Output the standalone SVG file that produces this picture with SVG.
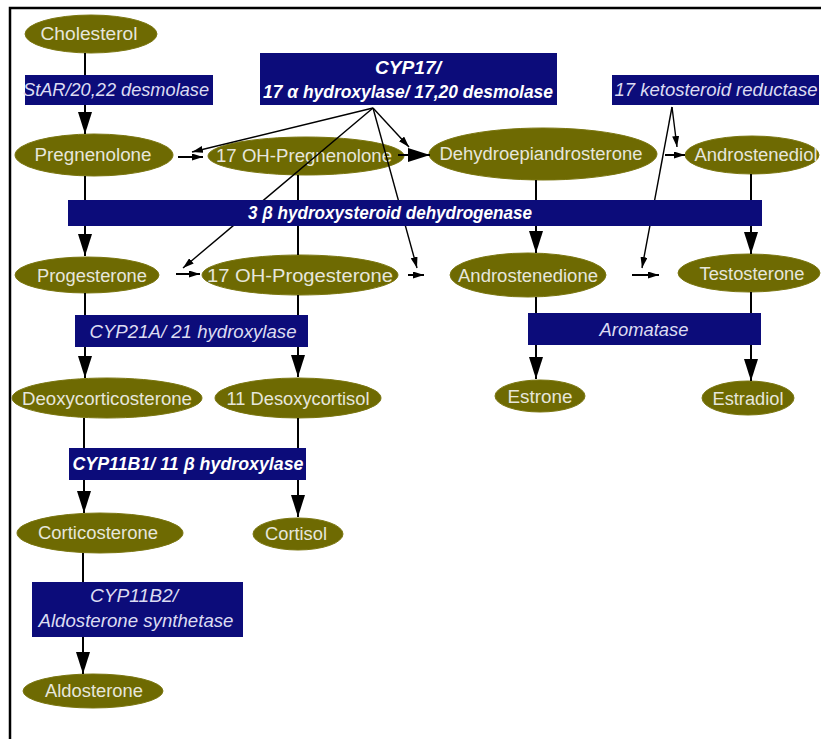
<svg xmlns="http://www.w3.org/2000/svg" width="821" height="739" viewBox="0 0 821 739">
<style>
.n ellipse{fill:#6e6a02;stroke:#7a7610;stroke-width:1}
.n text{font-family:"Liberation Sans",Arial,sans-serif;font-size:18px;fill:#e6e6dc;text-anchor:middle}
.b rect{fill:#0c0c7a}
.b text{font-family:"Liberation Sans",Arial,sans-serif;font-size:18px;font-style:italic;fill:#dcdcf2;text-anchor:middle}
.b text.bd{font-weight:bold;fill:#ffffff}
.c line{stroke:#000;stroke-width:2}
.c line.d{stroke-width:1.4}
</style>
<defs>
<marker id="big" markerUnits="userSpaceOnUse" markerWidth="22" markerHeight="14" refX="22" refY="7" orient="auto"><path d="M0,0 L22,7 L0,14 z" fill="#000"/></marker>
<marker id="sm" markerUnits="userSpaceOnUse" markerWidth="11" markerHeight="7" refX="11" refY="3.5" orient="auto"><path d="M0,0 L11,3.5 L0,7 z" fill="#000"/></marker>
</defs>
<rect x="0" y="0" width="821" height="739" fill="#fff"/>
<g id="frame"><path d="M10,739 L10,8 L821,8" fill="none" stroke="#000" stroke-width="2.5"/></g>

<g id="cholesterol" class="n"><ellipse cx="91" cy="34" rx="66" ry="19"/><text x="89" y="40" textLength="97" lengthAdjust="spacingAndGlyphs">Cholesterol</text></g>
<g id="pregnenolone" class="n"><ellipse cx="94" cy="155" rx="79" ry="21"/><text x="93" y="161" textLength="117" lengthAdjust="spacingAndGlyphs">Pregnenolone</text></g>
<g id="oh17preg" class="n"><ellipse cx="306" cy="156" rx="98" ry="19"/><text x="304" y="162" textLength="176" lengthAdjust="spacingAndGlyphs">17 OH-Pregnenolone</text></g>
<g id="dhea" class="n"><ellipse cx="543" cy="154" rx="114" ry="26"/><text x="541" y="160" textLength="203" lengthAdjust="spacingAndGlyphs">Dehydroepiandrosterone</text></g>
<g id="androstenediol" class="n"><ellipse cx="752" cy="155" rx="67" ry="19"/><text x="756" y="161" textLength="123" lengthAdjust="spacingAndGlyphs">Androstenediol</text></g>
<g id="progesterone" class="n"><ellipse cx="87" cy="275" rx="72" ry="18"/><text x="92" y="282" textLength="110" lengthAdjust="spacingAndGlyphs">Progesterone</text></g>
<g id="oh17prog" class="n"><ellipse cx="300" cy="275" rx="98" ry="20"/><text x="300" y="282" textLength="186" lengthAdjust="spacingAndGlyphs">17 OH-Progesterone</text></g>
<g id="androstenedione" class="n"><ellipse cx="528" cy="275" rx="78" ry="22"/><text x="528" y="282" textLength="140" lengthAdjust="spacingAndGlyphs">Androstenedione</text></g>
<g id="testosterone" class="n"><ellipse cx="749" cy="273" rx="71" ry="19"/><text x="752" y="280" textLength="105" lengthAdjust="spacingAndGlyphs">Testosterone</text></g>
<g id="deoxycorticosterone" class="n"><ellipse cx="107" cy="398" rx="95" ry="20"/><text x="107" y="405" textLength="170" lengthAdjust="spacingAndGlyphs">Deoxycorticosterone</text></g>
<g id="desoxycortisol" class="n"><ellipse cx="298" cy="398" rx="83" ry="20"/><text x="298" y="405" textLength="143" lengthAdjust="spacingAndGlyphs">11 Desoxycortisol</text></g>
<g id="estrone" class="n"><ellipse cx="540" cy="396" rx="45" ry="16"/><text x="540" y="403" textLength="65" lengthAdjust="spacingAndGlyphs">Estrone</text></g>
<g id="estradiol" class="n"><ellipse cx="748" cy="398" rx="46" ry="17"/><text x="748" y="405" textLength="71" lengthAdjust="spacingAndGlyphs">Estradiol</text></g>
<g id="corticosterone" class="n"><ellipse cx="100" cy="533" rx="83" ry="20"/><text x="98" y="539" textLength="120" lengthAdjust="spacingAndGlyphs">Corticosterone</text></g>
<g id="cortisol" class="n"><ellipse cx="298" cy="534" rx="45" ry="16"/><text x="296" y="540" textLength="62" lengthAdjust="spacingAndGlyphs">Cortisol</text></g>
<g id="aldosterone" class="n"><ellipse cx="93" cy="691" rx="70" ry="17"/><text x="94" y="697" textLength="98" lengthAdjust="spacingAndGlyphs">Aldosterone</text></g>

<g id="connectors" class="c">
<line x1="85" y1="53" x2="85" y2="134" marker-end="url(#big)"/>
<line x1="85" y1="176" x2="85" y2="256" marker-end="url(#big)"/>
<line x1="85" y1="293" x2="85" y2="378" marker-end="url(#big)"/>
<line x1="84" y1="418" x2="84" y2="513" marker-end="url(#big)"/>
<line x1="83" y1="553" x2="83" y2="674" marker-end="url(#big)"/>
<line x1="298" y1="175" x2="298" y2="255"/>
<line x1="298" y1="295" x2="298" y2="377" marker-end="url(#big)"/>
<line x1="298" y1="418" x2="298" y2="517" marker-end="url(#big)"/>
<line x1="536" y1="180" x2="536" y2="253" marker-end="url(#big)"/>
<line x1="536" y1="297" x2="536" y2="379" marker-end="url(#big)"/>
<line x1="751" y1="174" x2="751" y2="254" marker-end="url(#big)"/>
<line x1="751" y1="292" x2="751" y2="381" marker-end="url(#big)"/>
<line x1="178" y1="157" x2="203" y2="157" marker-end="url(#sm)"/>
<line x1="398" y1="155" x2="430" y2="155" marker-end="url(#big)"/>
<line x1="665" y1="155" x2="685" y2="155" marker-end="url(#sm)"/>
<line x1="176" y1="274" x2="200" y2="274" marker-end="url(#sm)"/>
<line x1="408" y1="275" x2="424" y2="275" marker-end="url(#sm)"/>
<line x1="632" y1="275" x2="659" y2="275" marker-end="url(#sm)"/>
<line class="d" x1="373" y1="108" x2="192" y2="152" marker-end="url(#sm)"/>
<line class="d" x1="373" y1="108" x2="183" y2="268" marker-end="url(#sm)"/>
<line class="d" x1="373" y1="108" x2="409" y2="147" marker-end="url(#sm)"/>
<line class="d" x1="373" y1="108" x2="417" y2="268" marker-end="url(#sm)"/>
<line class="d" x1="672" y1="107" x2="677" y2="147" marker-end="url(#sm)"/>
<line class="d" x1="672" y1="107" x2="642" y2="268" marker-end="url(#sm)"/>
</g>

<g id="star" class="b"><rect x="25" y="75" width="188" height="30"/><text x="116" y="96" textLength="186" lengthAdjust="spacingAndGlyphs">StAR/20,22 desmolase</text></g>
<g id="cyp17" class="b"><rect x="260" y="53" width="297" height="52"/><text class="bd" x="408" y="74" textLength="66" lengthAdjust="spacingAndGlyphs">CYP17/</text><text class="bd" x="408" y="98" textLength="290" lengthAdjust="spacingAndGlyphs">17 α hydroxylase/ 17,20 desmolase</text></g>
<g id="keto" class="b"><rect x="612" y="75" width="207" height="30"/><text x="716" y="96" textLength="203" lengthAdjust="spacingAndGlyphs">17 ketosteroid reductase</text></g>
<g id="hsd3b" class="b"><rect x="68" y="200" width="694" height="26"/><text class="bd" x="390" y="219" textLength="284" lengthAdjust="spacingAndGlyphs">3 β hydroxysteroid dehydrogenase</text></g>
<g id="cyp21a" class="b"><rect x="75" y="315" width="233" height="32"/><text x="193" y="338" textLength="207" lengthAdjust="spacingAndGlyphs">CYP21A/ 21 hydroxylase</text></g>
<g id="aromatase" class="b"><rect x="528" y="313" width="233" height="32"/><text x="644" y="336" textLength="89" lengthAdjust="spacingAndGlyphs">Aromatase</text></g>
<g id="cyp11b1" class="b"><rect x="69" y="448" width="237" height="32"/><text class="bd" x="188" y="470" textLength="231" lengthAdjust="spacingAndGlyphs">CYP11B1/ 11 β hydroxylase</text></g>
<g id="cyp11b2" class="b"><rect x="32" y="582" width="211" height="55"/><text x="134" y="602" textLength="88" lengthAdjust="spacingAndGlyphs">CYP11B2/</text><text x="136" y="627" textLength="195" lengthAdjust="spacingAndGlyphs">Aldosterone synthetase</text></g>
</svg>
